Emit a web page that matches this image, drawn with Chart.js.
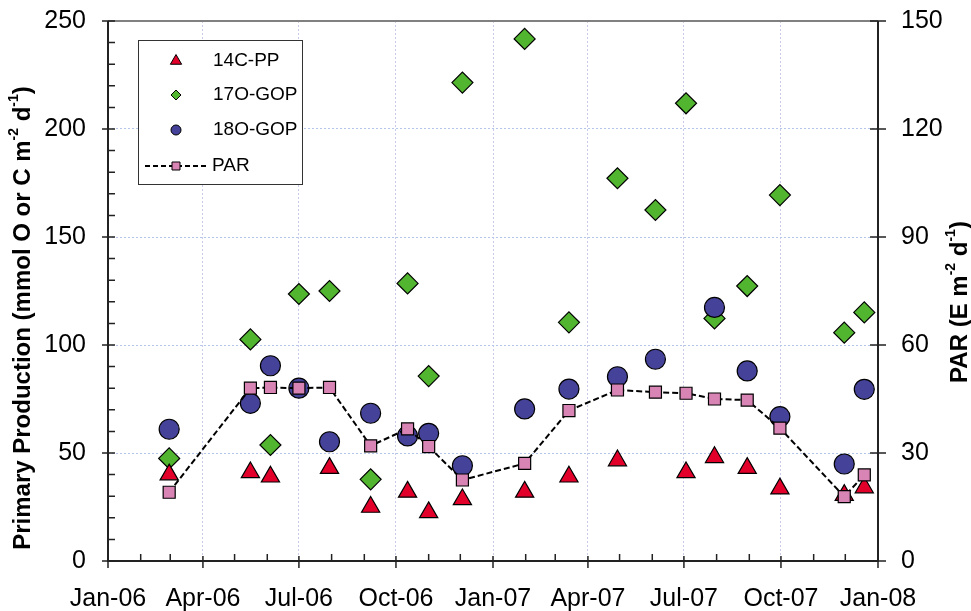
<!DOCTYPE html>
<html>
<head>
<meta charset="utf-8">
<script src="https://cdn.jsdelivr.net/npm/chart.js@4.4.0/dist/chart.umd.min.js"></script>
<style>
html, body { margin: 0; padding: 0; background: #fff; }
#wrap { width: 971px; height: 611px; }
</style>
</head>
<body>
<div id="wrap"><canvas id="ppChart" width="971" height="611"></canvas></div>
<script>
//========================= data ===========================
var sampleDates = ['2006-02-28', '2006-05-16', '2006-06-04', '2006-07-01', '2006-07-30', '2006-09-07',
    '2006-10-12', '2006-11-01', '2006-12-03', '2007-01-31', '2007-03-14', '2007-04-29', '2007-06-04',
    '2007-07-03', '2007-07-30', '2007-08-30', '2007-09-30', '2007-11-30', '2007-12-19'];
var pp14C  = [40, 41, 39, null, 43, 25, 32, 22.5, 28.5, 32, 39, 46.5, null, 41, 48, 43, 33.5, 30.5, 34];
var gop17O = [47.5, 102.6, 53.7, 123.6, 125, 37.8, 128.5, 85.6, 221.5, 241.7, 110.5, 177.2, 162.5, 211.9, 112.3, 127.3, 169.4, 105.7, 115.1];
var gop18O = [61, 73, 90.4, 80, 55.2, 68.4, 57.9, 59.1, 44.1, 70.4, 79.6, 85.3, 93.4, null, 117.4, 88, 66.8, 44.9, 79.5];
var parVals = [19.1, 48, 48.2, 48, 48.2, 32, 36.7, 31.8, 22.5, 27.1, 41.8, 47.5, 46.9, 46.6, 45, 44.7, 36.9, 17.9, 23.9];

var xTickDates  = ['2006-01-01', '2006-04-01', '2006-07-01', '2006-10-01', '2007-01-01',
    '2007-04-01', '2007-07-01', '2007-10-01', '2008-01-01'];
var xTickLabels = ['Jan-06', 'Apr-06', 'Jul-06', 'Oct-06', 'Jan-07', 'Apr-07', 'Jul-07', 'Oct-07', 'Jan-08'];
var leftTicks  = [0, 50, 100, 150, 200, 250];
var rightTicks = [0, 30, 60, 90, 120, 150];

var FONT = 'Liberation Sans, Arial, sans-serif';

// days since 1 Jan 2006
function dayNum(s) {
    var p = s.split('-');
    return (Date.UTC(+p[0], p[1] - 1, +p[2]) - Date.UTC(2006, 0, 1)) / 86400000;
}
function pts(vals) {
    var out = [];
    for (var i = 0; i < vals.length; i++) {
        if (vals[i] !== null) out.push({ x: dayNum(sampleDates[i]), y: vals[i] });
    }
    return out;
}

// small marker painter for the legend box
function marker(ctx, style, x, y, r, fill) {
    ctx.save();
    ctx.beginPath();
    if (style === 'triangle') {
        ctx.moveTo(x, y - r);
        ctx.lineTo(x + r * 0.866, y + r * 0.5);
        ctx.lineTo(x - r * 0.866, y + r * 0.5);
        ctx.closePath();
    } else if (style === 'rectRot') {
        ctx.moveTo(x - r, y); ctx.lineTo(x, y - r); ctx.lineTo(x + r, y); ctx.lineTo(x, y + r);
        ctx.closePath();
    } else if (style === 'circle') {
        ctx.arc(x, y, r, 0, Math.PI * 2);
    } else {
        ctx.rect(x - r, y - r, 2 * r, 2 * r);
    }
    ctx.fillStyle = fill;
    ctx.fill();
    ctx.lineWidth = 1;
    ctx.strokeStyle = '#000';
    ctx.stroke();
    ctx.restore();
}

// rotated text with superscripts
function richText(ctx, parts, cx, cy, size) {
    ctx.save();
    ctx.translate(cx, cy);
    ctx.rotate(-Math.PI / 2);
    var w = 0;
    parts.forEach(function (p) {
        ctx.font = 'bold ' + (p.sup ? Math.round(size * 0.6) : size) + 'px ' + FONT;
        p.w = ctx.measureText(p.t).width;
        w += p.w;
    });
    var x = -w / 2;
    ctx.fillStyle = '#000';
    ctx.textBaseline = 'middle';
    parts.forEach(function (p) {
        ctx.font = 'bold ' + (p.sup ? Math.round(size * 0.6) : size) + 'px ' + FONT;
        ctx.fillText(p.t, x, p.sup ? -size * 0.36 : 0);
        x += p.w;
    });
    ctx.restore();
}

// keep the tick padding from pushing the plot area down
function noVPad(s) { s.paddingTop = 0; s.paddingBottom = 0; }

var framePlugin = {
    id: 'frame',
    afterDraw: function (chart) {
        var ctx = chart.ctx, a = chart.chartArea;
        var sx = chart.scales.x, sy = chart.scales.y, sy2 = chart.scales.y2;
        ctx.save();
        // top border
        ctx.strokeStyle = '#808080';
        ctx.lineWidth = 2;
        ctx.beginPath(); ctx.moveTo(a.left, a.top); ctx.lineTo(a.right, a.top); ctx.stroke();
        // axes
        ctx.strokeStyle = '#222';
        ctx.beginPath();
        ctx.moveTo(a.left, a.top); ctx.lineTo(a.left, a.bottom); ctx.lineTo(a.right, a.bottom); ctx.lineTo(a.right, a.top);
        ctx.stroke();
        ctx.lineWidth = 1.5;
        ctx.beginPath();
        // x ticks: monthly, quarters cross the axis
        for (var m = 0; m <= 24; m++) {
            var px = sx.getPixelForValue((Date.UTC(2006, m, 1) - Date.UTC(2006, 0, 1)) / 86400000);
            if (m % 3 === 0) { ctx.moveTo(px, a.bottom - 5); ctx.lineTo(px, a.bottom + 7); }
            else { ctx.moveTo(px, a.bottom - 7); ctx.lineTo(px, a.bottom); }
        }
        // left ticks: every 10, majors cross
        for (var v = 0; v <= 250; v += 10) {
            var py = sy.getPixelForValue(v);
            if (v % 50 === 0) { ctx.moveTo(a.left - 6, py); ctx.lineTo(a.left + 7, py); }
            else { ctx.moveTo(a.left, py); ctx.lineTo(a.left + 7, py); }
        }
        rightTicks.forEach(function (t) {
            var py = sy2.getPixelForValue(t);
            ctx.moveTo(a.right - 8, py); ctx.lineTo(a.right + 8, py);
        });
        ctx.stroke();

        // axis titles
        richText(ctx, [{ t: 'Primary Production (mmol O or C m' }, { t: '-2', sup: true }, { t: ' d' }, { t: '-1', sup: true }, { t: ')' }], 23, 318, 24);
        richText(ctx, [{ t: 'PAR (E m' }, { t: '-2', sup: true }, { t: ' d' }, { t: '-1', sup: true }, { t: ')' }], 960, 302, 24);

        // legend box
        ctx.fillStyle = '#fff';
        ctx.fillRect(138, 40, 164, 144);
        ctx.strokeStyle = '#333';
        ctx.lineWidth = 1;
        ctx.strokeRect(138.5, 40.5, 164, 144);
        var rows = [
            { label: '14C-PP', style: 'triangle', color: '#e2002a', y: 61, r: 6.5 },
            { label: '17O-GOP', style: 'rectRot', color: '#52b52f', y: 95, r: 5 },
            { label: '18O-GOP', style: 'circle', color: '#45429a', y: 130, r: 5 },
            { label: 'PAR', style: 'rect', color: '#d884b4', y: 166, r: 4 }
        ];
        ctx.font = '19px ' + FONT;
        ctx.textBaseline = 'middle';
        rows.forEach(function (r) {
            if (r.label === 'PAR') {
                ctx.save();
                ctx.strokeStyle = '#000';
                ctx.lineWidth = 1.8;
                ctx.setLineDash([5, 3]);
                ctx.beginPath(); ctx.moveTo(145, r.y); ctx.lineTo(207, r.y); ctx.stroke();
                ctx.restore();
            }
            marker(ctx, r.style, 176, r.y, r.r, r.color);
            ctx.fillStyle = '#000';
            ctx.fillText(r.label, r.label === 'PAR' ? 212 : 213, r.y);
        });
        ctx.restore();
    }
};

var chrt = document.getElementById('ppChart').getContext('2d');
var ppChart = new Chart(chrt, {
    type: 'scatter',
    data: {
        datasets: [{
            label: 'PAR',
            data: pts(parVals),
            yAxisID: 'y2',
            showLine: true,
            borderColor: '#000',
            borderWidth: 2,
            borderDash: [6, 3],
            pointStyle: 'rect',
            pointRadius: 8.5,
            pointBackgroundColor: '#d884b4',
            pointBorderColor: '#000',
            pointBorderWidth: 1.2,
            order: 0,
        }, {
            label: '18O-GOP',
            data: pts(gop18O),
            yAxisID: 'y',
            pointStyle: 'circle',
            pointRadius: 10,
            pointBackgroundColor: '#45429a',
            pointBorderColor: '#000',
            pointBorderWidth: 1.2,
            order: 1,
        }, {
            label: '14C-PP',
            data: pts(pp14C),
            yAxisID: 'y',
            pointStyle: 'triangle',
            pointRadius: 10.5,
            pointBackgroundColor: '#e2002a',
            pointBorderColor: '#000',
            pointBorderWidth: 1.2,
            order: 2,
        }, {
            label: '17O-GOP',
            data: pts(gop17O),
            yAxisID: 'y',
            pointStyle: 'rectRot',
            pointRadius: 10.5,
            pointBackgroundColor: '#52b52f',
            pointBorderColor: '#000',
            pointBorderWidth: 1.2,
            order: 3,
        }],
    },
    options: {
        responsive: false,
        animation: false,
        layout: { padding: { top: 21 } },
        plugins: {
            legend: { display: false },
            tooltip: { enabled: false },
        },
        scales: {
            x: {
                type: 'linear',
                position: 'bottom',
                min: 0,
                max: 730,
                afterBuildTicks: function (s) {
                    s.ticks = xTickDates.map(function (d) { return { value: dayNum(d) }; });
                },
                afterFit: function (s) { s.height = 50; },
                ticks: {
                    autoSkip: false,
                    maxRotation: 0,
                    padding: 23,
                    color: '#000',
                    font: { family: FONT, size: 25 },
                    callback: function (v, i) { return xTickLabels[i]; },
                },
                grid: {
                    drawTicks: false,
                    color: function (c) {
                        return (c.index === 0 || c.index === xTickDates.length - 1) ? 'rgba(0,0,0,0)' : '#c9cce8';
                    },
                },
                border: { display: false, dash: [2, 2] },
            },
            y: {
                position: 'left',
                min: 0,
                max: 250,
                afterBuildTicks: function (s) {
                    s.ticks = leftTicks.map(function (v) { return { value: v }; });
                },
                afterFit: function (s) { s.width = 108; noVPad(s); },
                ticks: {
                    padding: 22,
                    color: '#000',
                    font: { family: FONT, size: 25 },
                },
                grid: {
                    drawTicks: false,
                    color: function (c) {
                        return (c.tick && (c.tick.value === 0 || c.tick.value === 250)) ? 'rgba(0,0,0,0)' : '#b5c6ea';
                    },
                },
                border: { display: false, dash: [2, 2] },
            },
            y2: {
                position: 'right',
                min: 0,
                max: 150,
                afterBuildTicks: function (s) {
                    s.ticks = rightTicks.map(function (v) { return { value: v }; });
                },
                afterFit: function (s) { s.width = 93; noVPad(s); },
                ticks: {
                    padding: 23,
                    color: '#000',
                    font: { family: FONT, size: 25 },
                },
                grid: { drawOnChartArea: false, drawTicks: false },
                border: { display: false },
            },
        },
    },
    plugins: [framePlugin],
});
</script>
</body>
</html>
